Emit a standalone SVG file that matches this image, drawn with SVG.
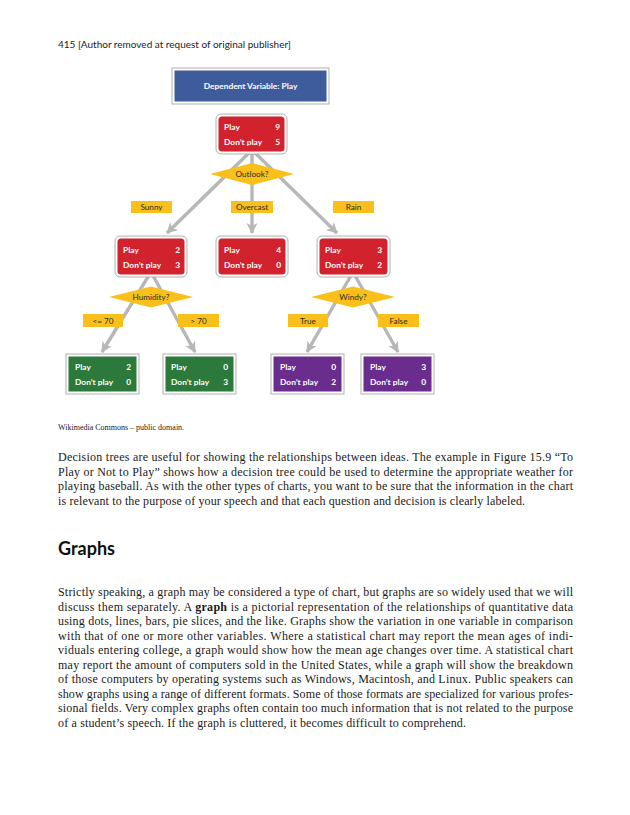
<svg xmlns="http://www.w3.org/2000/svg" width="630" height="815" viewBox="0 0 630 815">
<defs>
<style>
.page{fill:#ffffff}
.hdr{font-family:Lato,"Liberation Sans",sans-serif;font-size:10px;fill:#222}
.frame{fill:#ffffff;stroke:#a8a8a8;stroke-width:0.9}
.blue{fill:#3e5c9c}
.red{fill:#d1222d}
.green{fill:#2b7a3c}
.purple{fill:#6a2d8d}
.yel{fill:#f9c01b}
.bt{font-family:Lato,"Liberation Sans",sans-serif;font-size:8.4px;font-weight:bold;fill:#ffffff}
.lt{font-family:Lato,"Liberation Sans",sans-serif;font-size:8.2px;fill:#2a2a2a;text-anchor:middle}
.conn{stroke:#b7b7b7;stroke-width:3.4;fill:none;marker-end:url(#ah)}
.cap{font-family:"Liberation Serif",serif;font-size:8px;fill:#222}
.body{font-family:"Liberation Serif",serif;font-size:12px;fill:#1a1a1a}
.h2{font-family:Lato,"Liberation Sans",sans-serif;font-size:18px;font-weight:bold;fill:#111}
</style>
<marker id="ah" markerUnits="userSpaceOnUse" markerWidth="12" markerHeight="12" viewBox="0 0 12 12" refX="10" refY="6" orient="auto">
<path d="M0,0.5 L11,6 L0,11.5 L3,6 z" fill="#b7b7b7"/>
</marker>
</defs>
<rect class="page" x="0" y="0" width="630" height="815"/>
<text class="hdr" x="58" y="48">415  [Author removed at request of original publisher]</text>

<g id="connectors">
<line class="conn" x1="252" y1="150" x2="167" y2="233"/>
<line class="conn" x1="252" y1="150" x2="252" y2="233"/>
<line class="conn" x1="252" y1="150" x2="337" y2="233"/>
<line class="conn" x1="151" y1="272" x2="102" y2="352"/>
<line class="conn" x1="151" y1="272" x2="195" y2="352"/>
<line class="conn" x1="353" y1="272" x2="307" y2="352"/>
<line class="conn" x1="353" y1="272" x2="398" y2="352"/>
</g>

<g id="n-dependent">
<rect class="frame" x="172" y="68" width="157" height="36"/>
<rect class="blue" x="174.5" y="70.5" width="152" height="31"/>
<text class="bt" x="250.5" y="89" text-anchor="middle">Dependent Variable: Play</text>
</g>

<g id="n-root">
<rect class="frame" x="216" y="114" width="71" height="40" rx="5"/>
<rect class="red" x="218.5" y="116.5" width="66" height="35" rx="3.5"/>
<text class="bt" x="224" y="130">Play</text><text class="bt" x="280" y="130" text-anchor="end">9</text>
<text class="bt" x="224" y="145">Don’t play</text><text class="bt" x="280" y="145" text-anchor="end">5</text>
</g>

<g id="d-outlook">
<polygon class="yel" points="210,174 252,163 294,174 252,185"/>
<text class="lt" x="252" y="177">Outlook?</text>
</g>

<g id="l-sunny"><rect class="yel" x="131" y="201" width="41" height="12"/><text class="lt" x="151.5" y="210">Sunny</text></g>
<g id="l-overcast"><rect class="yel" x="231" y="201" width="42" height="12"/><text class="lt" x="252" y="210">Overcast</text></g>
<g id="l-rain"><rect class="yel" x="333" y="201" width="41" height="12"/><text class="lt" x="353.5" y="210">Rain</text></g>

<g id="n-sunny">
<rect class="frame" x="115" y="236" width="72" height="41" rx="5"/>
<rect class="red" x="117.5" y="238.5" width="67" height="36" rx="3.5"/>
<text class="bt" x="123" y="253">Play</text><text class="bt" x="180" y="253" text-anchor="end">2</text>
<text class="bt" x="123" y="268">Don’t play</text><text class="bt" x="180" y="268" text-anchor="end">3</text>
</g>
<g id="n-overcast">
<rect class="frame" x="216" y="236" width="72" height="41" rx="5"/>
<rect class="red" x="218.5" y="238.5" width="67" height="36" rx="3.5"/>
<text class="bt" x="224" y="253">Play</text><text class="bt" x="281" y="253" text-anchor="end">4</text>
<text class="bt" x="224" y="268">Don’t play</text><text class="bt" x="281" y="268" text-anchor="end">0</text>
</g>
<g id="n-rain">
<rect class="frame" x="317" y="236" width="73" height="41" rx="5"/>
<rect class="red" x="319.5" y="238.5" width="68" height="36" rx="3.5"/>
<text class="bt" x="325" y="253">Play</text><text class="bt" x="382" y="253" text-anchor="end">3</text>
<text class="bt" x="325" y="268">Don’t play</text><text class="bt" x="382" y="268" text-anchor="end">2</text>
</g>

<g id="d-humidity">
<polygon class="yel" points="109,297 151,286.5 193,297 151,307.5"/>
<text class="lt" x="151" y="300">Humidity?</text>
</g>
<g id="d-windy">
<polygon class="yel" points="311,297 353,286.5 395,297 353,307.5"/>
<text class="lt" x="353" y="300">Windy?</text>
</g>

<g id="l-le70"><rect class="yel" x="83" y="314" width="40" height="13"/><text class="lt" x="103" y="323.5">&lt;= 70</text></g>
<g id="l-gt70"><rect class="yel" x="178" y="314" width="41" height="13"/><text class="lt" x="198.5" y="323.5">&gt; 70</text></g>
<g id="l-true"><rect class="yel" x="288" y="314" width="40" height="13"/><text class="lt" x="308" y="323.5">True</text></g>
<g id="l-false"><rect class="yel" x="378" y="314" width="41" height="13"/><text class="lt" x="398.5" y="323.5">False</text></g>

<g id="n-le70">
<rect class="frame" x="66" y="354" width="73" height="40"/>
<rect class="green" x="68.5" y="356.5" width="68" height="35"/>
<text class="bt" x="75" y="370">Play</text><text class="bt" x="131" y="370" text-anchor="end">2</text>
<text class="bt" x="75" y="385">Don’t play</text><text class="bt" x="131" y="385" text-anchor="end">0</text>
</g>
<g id="n-gt70">
<rect class="frame" x="163" y="354" width="73" height="40"/>
<rect class="green" x="165.5" y="356.5" width="68" height="35"/>
<text class="bt" x="171" y="370">Play</text><text class="bt" x="228" y="370" text-anchor="end">0</text>
<text class="bt" x="171" y="385">Don’t play</text><text class="bt" x="228" y="385" text-anchor="end">3</text>
</g>
<g id="n-true">
<rect class="frame" x="271" y="354" width="73" height="40"/>
<rect class="purple" x="273.5" y="356.5" width="68" height="35"/>
<text class="bt" x="280" y="370">Play</text><text class="bt" x="336" y="370" text-anchor="end">0</text>
<text class="bt" x="280" y="385">Don’t play</text><text class="bt" x="336" y="385" text-anchor="end">2</text>
</g>
<g id="n-false">
<rect class="frame" x="361" y="354" width="73" height="40"/>
<rect class="purple" x="363.5" y="356.5" width="68" height="35"/>
<text class="bt" x="370" y="370">Play</text><text class="bt" x="426" y="370" text-anchor="end">3</text>
<text class="bt" x="370" y="385">Don’t play</text><text class="bt" x="426" y="385" text-anchor="end">0</text>
</g>

<text class="cap" x="58" y="430">Wikimedia Commons – public domain.</text>

<g id="para1">
<text class="body" x="58" y="461" textLength="515" lengthAdjust="spacing">Decision trees are useful for showing the relationships between ideas. The example in Figure 15.9 “To</text>
<text class="body" x="58" y="475.5" textLength="515" lengthAdjust="spacing">Play or Not to Play” shows how a decision tree could be used to determine the appropriate weather for</text>
<text class="body" x="58" y="490" textLength="515" lengthAdjust="spacing">playing baseball. As with the other types of charts, you want to be sure that the information in the chart</text>
<text class="body" x="58" y="504.5" textLength="467" lengthAdjust="spacing">is relevant to the purpose of your speech and that each question and decision is clearly labeled.</text>
</g>

<text class="h2" x="58" y="555">Graphs</text>

<g id="para2">
<text class="body" x="58" y="596" textLength="515" lengthAdjust="spacing">Strictly speaking, a graph may be considered a type of chart, but graphs are so widely used that we will</text>
<text class="body" x="58" y="610.5" textLength="515" lengthAdjust="spacing">discuss them separately. A <tspan font-weight="bold">graph</tspan> is a pictorial representation of the relationships of quantitative data</text>
<text class="body" x="58" y="625" textLength="515" lengthAdjust="spacing">using dots, lines, bars, pie slices, and the like. Graphs show the variation in one variable in comparison</text>
<text class="body" x="58" y="639.5" textLength="515" lengthAdjust="spacing">with that of one or more other variables. Where a statistical chart may report the mean ages of indi-</text>
<text class="body" x="58" y="654" textLength="515" lengthAdjust="spacing">viduals entering college, a graph would show how the mean age changes over time. A statistical chart</text>
<text class="body" x="58" y="668.5" textLength="515" lengthAdjust="spacing">may report the amount of computers sold in the United States, while a graph will show the breakdown</text>
<text class="body" x="58" y="683" textLength="515" lengthAdjust="spacing">of those computers by operating systems such as Windows, Macintosh, and Linux. Public speakers can</text>
<text class="body" x="58" y="697.5" textLength="515" lengthAdjust="spacing">show graphs using a range of different formats. Some of those formats are specialized for various profes-</text>
<text class="body" x="58" y="712" textLength="515" lengthAdjust="spacing">sional fields. Very complex graphs often contain too much information that is not related to the purpose</text>
<text class="body" x="58" y="726.5" textLength="408" lengthAdjust="spacing">of a student’s speech. If the graph is cluttered, it becomes difficult to comprehend.</text>
</g>
</svg>
